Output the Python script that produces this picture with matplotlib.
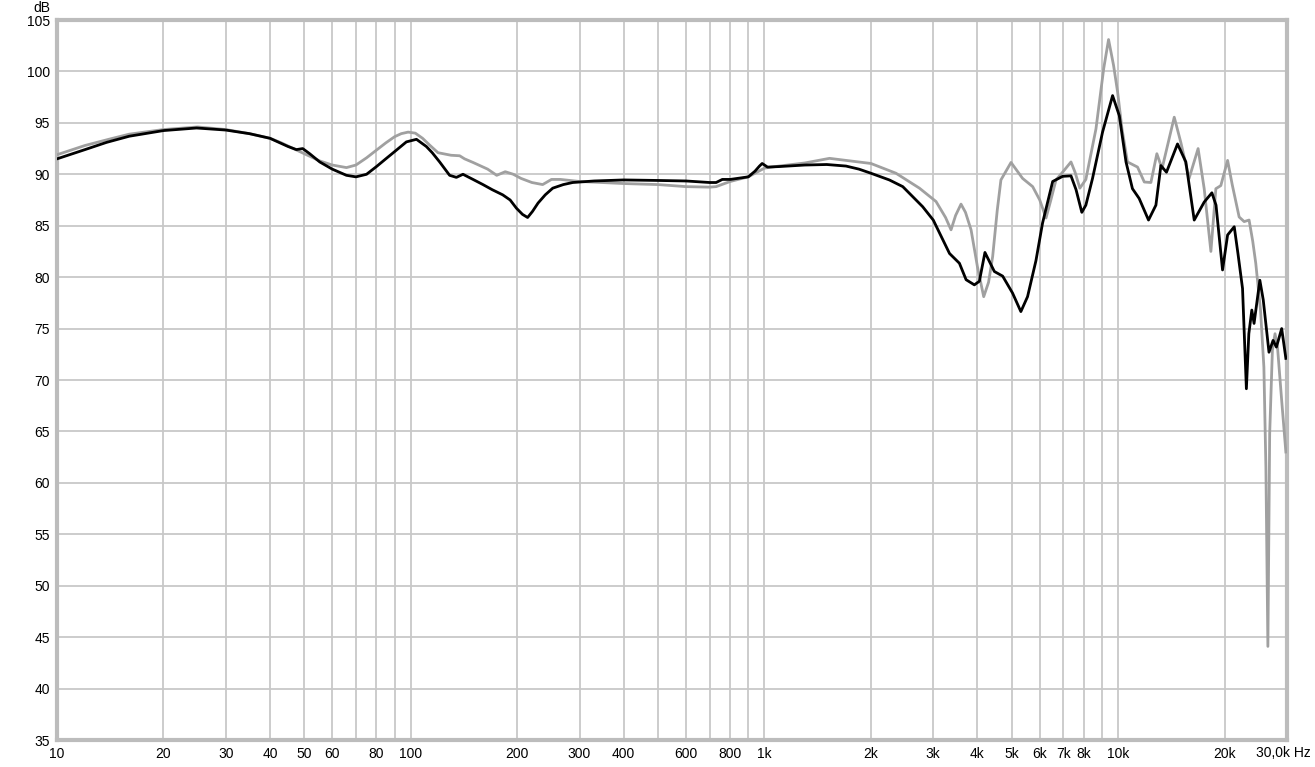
import matplotlib
matplotlib.use("Agg")
import matplotlib.pyplot as plt
import matplotlib.ticker as mticker

# black curve (Hz, dB)
black_freq = [10, 12, 13.8, 16, 20, 24.8, 30, 35, 40, 42.6, 45, 47.5, 49.5, 51.8, 55.3, 60, 65.8, 70, 75,
              80, 85, 90, 97.2, 103.8, 110.7, 115, 120.7, 128.8, 134.6, 140.5, 150, 160, 170, 182, 191,
              199, 207, 214, 221, 229, 240, 252, 270, 287, 330, 400, 500, 600, 700, 730, 760, 800, 900,
              940, 968, 985, 1020, 1100, 1300, 1500, 1700, 1850, 2000, 2254, 2460, 2800, 3000, 3335,
              3557, 3715, 3920, 4050, 4200, 4465, 4713, 5027, 5306, 5542, 5853, 6110, 6527, 6965, 7353,
              7600, 7890, 8100, 8460, 9030, 9640, 10070, 10520, 10970, 11460, 12180, 12780, 13200,
              13690, 14710, 15530, 16400, 17500, 18400, 18900, 19720, 20380, 21280, 21800, 22460,
              23030, 23400, 23860, 24210, 25140, 25700, 26680, 27400, 28000, 28980, 29780]
black_db = [91.5, 92.4, 93.1, 93.7, 94.25, 94.5, 94.3, 93.95, 93.5, 93.07, 92.7, 92.4, 92.5, 92.0, 91.2,
            90.5, 89.9, 89.75, 90.0, 90.75, 91.5, 92.2, 93.15, 93.4, 92.7, 92.1, 91.2, 89.9, 89.7, 90.0,
            89.5, 89.0, 88.5, 88.0, 87.5, 86.7, 86.1, 85.8, 86.4, 87.2, 88.0, 88.65, 89.0, 89.2, 89.35,
            89.45, 89.4, 89.35, 89.2, 89.2, 89.5, 89.5, 89.75, 90.3, 90.8, 91.05, 90.7, 90.75, 90.9,
            90.95, 90.8, 90.5, 90.1, 89.45, 88.8, 86.85, 85.55, 82.3, 81.35, 79.75, 79.25, 79.6, 82.4,
            80.55, 80.1, 78.45, 76.65, 78.1, 81.6, 85.25, 89.3, 89.8, 89.85, 88.5, 86.3, 87.0, 89.6,
            94.1, 97.65, 95.7, 91.2, 88.6, 87.65, 85.55, 87.0, 90.85, 90.2, 92.95, 91.2, 85.55, 87.3,
            88.2, 87.0, 80.7, 84.1, 84.9, 82.3, 78.9, 69.15, 74.5, 76.8, 75.5, 79.7, 77.8, 72.7, 73.85,
            73.2, 75.0, 72.1]

# gray curve (Hz, dB)
gray_freq = [10, 12, 14, 16, 20, 25, 30, 35, 40, 43, 48.6, 55.3, 60, 65.8, 70, 75, 80, 85, 90, 94, 98.3,
             103, 108, 113, 119.4, 130, 137.5, 142, 150, 165, 175, 185, 195, 205, 220, 236, 250, 265,
             300, 400, 500, 600, 700, 730, 800, 900, 1000, 1100, 1300, 1527, 1700, 2000, 2354, 2742,
             3055, 3250, 3368, 3470, 3594, 3700, 3837, 4000, 4166, 4300, 4416, 4550, 4660, 4977, 5366,
             5730, 6000, 6250, 6450, 6670, 7000, 7353, 7550, 7790, 8100, 8650, 9100, 9390, 9700, 9960,
             10250, 10620, 11340, 11850, 12370, 12860, 13300, 14400, 15030, 15860, 16820, 17500, 18280,
             18880, 19500, 20380, 21000, 21970, 22700, 23440, 24000, 24480, 25250, 25810, 26150, 26490,
             26800, 27280, 27750, 28200, 28980, 29780]
gray_db = [91.9, 92.8, 93.4, 93.9, 94.35, 94.6, 94.35, 93.95, 93.5, 93.07, 92.2, 91.3, 90.9, 90.65,
           90.9, 91.6, 92.35, 93.05, 93.65, 93.95, 94.1, 94.0, 93.5, 92.85, 92.1, 91.85, 91.8, 91.5,
           91.15, 90.5, 89.9, 90.25, 90.0, 89.6, 89.2, 89.0, 89.5, 89.5, 89.3, 89.1, 89.0, 88.8, 88.75,
           88.8, 89.3, 89.75, 90.6, 90.8, 91.1, 91.55, 91.35, 91.05, 90.1, 88.65, 87.35, 85.8, 84.6,
           86.0, 87.1, 86.3, 84.6, 81.0, 78.1, 79.5, 82.0, 86.5, 89.45, 91.15, 89.6, 88.8, 87.5, 85.75,
           87.5, 89.45, 90.3, 91.2, 90.2, 88.65, 89.5, 94.4, 100.3, 103.1, 100.6, 98.0, 94.4, 91.2, 90.7,
           89.25, 89.2, 92.0, 90.55, 95.55, 93.1, 89.6, 92.5, 88.6, 82.5, 88.6, 88.9, 91.35, 89.0, 85.85,
           85.4, 85.55, 83.5, 81.35, 76.8, 71.25, 61.5, 44.1, 64.75, 72.9, 74.5, 73.2, 68.0, 63.0]

grid_freqs = [20, 30, 40, 50, 60, 70, 80, 90, 100, 200, 300, 400, 500, 600, 700, 800, 900,
              1000, 2000, 3000, 4000, 5000, 6000, 7000, 8000, 9000, 10000, 20000]
label_freqs = [10, 20, 30, 40, 50, 60, 80, 100, 200, 300, 400, 600, 800,
               1000, 2000, 3000, 4000, 5000, 6000, 7000, 8000, 10000, 20000]
label_text = ["10", "20", "30", "40", "50", "60", "80", "100", "200", "300", "400", "600", "800",
              "1k", "2k", "3k", "4k", "5k", "6k", "7k", "8k", "10k", "20k"]
db_ticks = list(range(35, 106, 5))

plt.rcParams['font.family'] = ['Liberation Sans', 'DejaVu Sans']

W, H = 1315, 767
fig = plt.figure(figsize=(W / 100, H / 100), dpi=100)
ax = fig.add_axes([57 / W, (H - 740) / H, (1287 - 57) / W, (740 - 20) / H])

ax.set_xscale('log')
ax.set_xlim(10, 30000)
ax.set_ylim(35, 105)

for f in grid_freqs:
    ax.axvline(f, color='#c8c8c8', linewidth=1.3, zorder=1)
for d in db_ticks[1:-1]:
    ax.axhline(d, color='#c8c8c8', linewidth=1.3, zorder=1)

ax.plot(gray_freq, gray_db, color='#a0a0a0', linewidth=2.0, zorder=3, solid_joinstyle='round')
ax.plot(black_freq, black_db, color='black', linewidth=2.0, zorder=4, solid_joinstyle='round')

ax.xaxis.set_major_locator(mticker.FixedLocator(label_freqs))
ax.xaxis.set_major_formatter(mticker.FixedFormatter(label_text))
ax.xaxis.set_minor_locator(mticker.NullLocator())
ax.set_yticks(db_ticks)
ax.tick_params(axis='both', length=0, labelsize=10, colors='black')
ax.tick_params(axis='x', pad=5)
ax.tick_params(axis='y', pad=5)

for s in ax.spines.values():
    s.set_color('#bcbcbc')
    s.set_linewidth(3)

fig.text(50 / W, 1 - 8 / H, "dB", ha='right', va='center', fontsize=10)
fig.text(1311 / W, 1 - 753 / H, "30,0k Hz", ha='right', va='center', fontsize=10)

fig.savefig("out.png", dpi=100)
